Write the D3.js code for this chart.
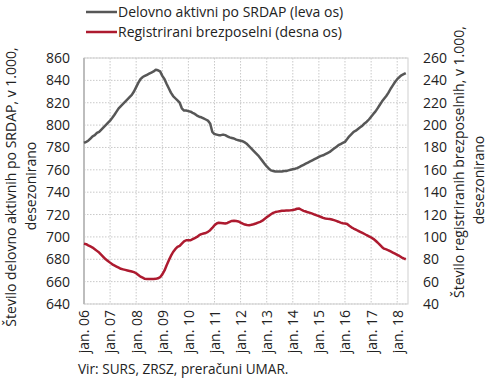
<!DOCTYPE html>
<html>
<head>
<meta charset="utf-8">
<script src="https://cdn.jsdelivr.net/npm/d3@7"></script>
<style>
  body { margin: 0; background: #fff; }
  text { font-family: "Open Sans", sans-serif; fill: #222; }
</style>
</head>
<body>
<svg id="chart" width="490" height="382"></svg>
<script>
// monthly series, first value = jan. 2006
var firstMonth = new Date(2006, 0, 1);

// Delovno aktivni po SRDAP, v 1.000 (leva os)
var employed = [
  784, 785, 786, 788, 790, 791, 793, 794, 796, 798, 800, 802,
  804, 806.5, 809, 812, 815, 817, 819, 821, 823, 825, 827, 830,
  834, 838, 841, 843, 844, 845, 846, 847, 848, 849.5, 849, 848,
  844, 841, 837, 833, 829, 826, 824, 822, 820, 815, 813, 813,
  812.5, 812, 811, 810, 808.5, 807.5, 807, 806, 805, 804, 801.5, 794,
  792, 791.5, 791, 791, 791.5, 791, 790, 789, 788.5, 788, 787, 786.5,
  786, 785.5, 784.5, 783, 781, 779, 777, 775, 773, 770.5, 768, 765.5,
  763, 761, 759.5, 759, 758.5, 758.5, 758.5, 758.5, 759, 759, 759.5, 760,
  760.5, 761, 761.5, 762.5, 763.5, 764.5, 765.5, 766.5, 767.5, 768.5, 769.5, 770.5,
  771.5, 772.5, 773, 774, 775, 776, 777.5, 779, 780.5, 782, 783, 784,
  785, 787.5, 790, 792, 794, 795, 796.5, 798, 799.5, 801.5, 803, 805,
  807.5, 810, 812, 815, 818, 821, 823.5, 826, 829, 832.5, 835.5, 838.5,
  841, 843, 844.5, 845.5, 846.5
];

// Registrirani brezposelni, v 1.000 (desna os)
var unemployed = [
  94, 93.5, 92.5, 91.5, 90.5, 89, 87.5, 86, 84, 82, 80, 78.5,
  77, 75.5, 74.5, 73.5, 72.5, 71.5, 71, 70.5, 70, 69.5, 69, 68.5,
  67.5, 66, 64.5, 63.5, 62.5, 62.3, 62.3, 62.3, 62.3, 62.5, 63, 64,
  66.5, 70, 74.5, 79, 83, 86.5, 89, 91, 92, 94, 96, 97,
  97, 97, 98, 99, 100, 101.5, 102.5, 103, 103.5, 104.5, 106, 108,
  110.5, 112, 112.7, 112.5, 112.3, 112, 112.5, 113.5, 114.3, 114.5, 114.2, 113.8,
  112.8, 111.8, 111, 110.7, 110.5, 110.8, 111.3, 112, 112.8, 113.5, 114.5, 116,
  117.5, 119, 120.3, 121.5, 122.2, 122.6, 123, 123.3, 123.5, 123.6, 123.7, 123.8,
  124, 124.5, 125.2, 125.3, 124.3, 123.3, 122.7, 122, 121.5, 120.8, 120, 119.3,
  118.6, 117.8, 117, 116.5, 116.2, 116, 115.6, 115, 114.3, 113.6, 112.8, 112.2,
  112, 111.5, 110, 108.6, 107.5, 106.5, 105.5, 104.6, 103.6, 102.6, 101.5, 100.5,
  99.5, 98.3, 96.8, 95, 93, 91, 89.5, 88.8, 88, 87, 86, 85,
  84, 83, 81.8, 80.8, 80
];

var tickLabels = ["jan. 06", "jan. 07", "jan. 08", "jan. 09", "jan. 10", "jan. 11", "jan. 12",
                  "jan. 13", "jan. 14", "jan. 15", "jan. 16", "jan. 17", "jan. 18"];
var leftTicks = [640, 660, 680, 700, 720, 740, 760, 780, 800, 820, 840, 860];
var rightTicks = [40, 60, 80, 100, 120, 140, 160, 180, 200, 220, 240, 260];
var seriesNames = ["Delovno aktivni po SRDAP (leva os)", "Registrirani brezposelni (desna os)"];
var seriesColors = ["#575757", "#ad1a2f"];
var leftTitle = ["Število delovno aktivnih po SRDAP, v 1.000,", "desezonirano"];
var rightTitle = ["Število registriranih brezposelnih, v 1.000,", "desezonirano"];
var sourceNote = "Vir: SURS, ZRSZ, preračuni UMAR.";

var svg = d3.select("#chart");
var margin = {top: 58, right: 82, bottom: 78, left: 84};
var width = 490 - margin.left - margin.right,
    height = 382 - margin.top - margin.bottom;

var g = svg.append("g")
    .attr("transform", "translate(" + margin.left + "," + margin.top + ")");

// scales
var dates = employed.map(function(d, i) { return d3.timeMonth.offset(firstMonth, i); });
var x = d3.scaleTime()
    .domain([firstMonth, d3.timeMonth.offset(firstMonth, employed.length)])
    .range([0, width]);
var yLeft = d3.scaleLinear().domain([640, 860]).range([height, 0]);
var yRight = d3.scaleLinear().domain([40, 260]).range([height, 0]);
var yearTicks = d3.timeYear.range(firstMonth, d3.timeMonth.offset(firstMonth, employed.length));

// horizontal grid
g.append("g")
    .selectAll("line")
    .data(leftTicks)
  .enter().append("line")
    .attr("x1", 0).attr("x2", width)
    .attr("y1", function(d) { return yLeft(d); })
    .attr("y2", function(d) { return yLeft(d); })
    .attr("stroke", "#c9c9c9")
    .attr("stroke-dasharray", "1.5,1.5");

// vertical grid
g.append("g")
    .selectAll("line")
    .data(yearTicks.slice(1))
  .enter().append("line")
    .attr("x1", function(d) { return x(d); })
    .attr("x2", function(d) { return x(d); })
    .attr("y1", 0).attr("y2", height)
    .attr("stroke", "#c9c9c9")
    .attr("stroke-dasharray", "1.5,1.5");

// frame
g.append("rect")
    .attr("width", width).attr("height", height)
    .attr("fill", "none")
    .attr("stroke", "#cfcfcf");
g.append("line")
    .attr("x1", 0).attr("x2", 0).attr("y1", 0).attr("y2", height)
    .attr("stroke", "#bdbdbd").attr("stroke-width", 2);

// left axis
var leftAxis = g.append("g")
    .call(d3.axisLeft(yLeft).tickValues(leftTicks).tickSize(0).tickPadding(14));
leftAxis.select(".domain").remove();
leftAxis.selectAll("text").style("font-size", "14px");

// right axis
var rightAxis = g.append("g")
    .attr("transform", "translate(" + width + ",0)")
    .call(d3.axisRight(yRight).tickValues(rightTicks).tickSize(0).tickPadding(15));
rightAxis.select(".domain").remove();
rightAxis.selectAll("text").style("font-size", "14px");

// bottom axis
var bottomAxis = g.append("g")
    .attr("transform", "translate(0," + height + ")")
    .call(d3.axisBottom(x).tickValues(yearTicks).tickSize(0)
      .tickFormat(function(d, i) { return tickLabels[i]; }));
bottomAxis.select(".domain").remove();
bottomAxis.selectAll("text")
    .style("font-size", "14px")
    .attr("text-anchor", "end")
    .attr("transform", "rotate(-90)")
    .attr("x", -6)
    .attr("y", 0)
    .attr("dy", "0.35em");

// lines
var lineLeft = d3.line()
    .x(function(d, i) { return x(dates[i]); })
    .y(function(d) { return yLeft(d); });
var lineRight = d3.line()
    .x(function(d, i) { return x(dates[i]); })
    .y(function(d) { return yRight(d); });

g.append("path")
    .datum(unemployed)
    .attr("fill", "none")
    .attr("stroke", seriesColors[1])
    .attr("stroke-width", 2.5)
    .attr("stroke-linejoin", "round")
    .attr("d", lineRight);

g.append("path")
    .datum(employed)
    .attr("fill", "none")
    .attr("stroke", seriesColors[0])
    .attr("stroke-width", 2.5)
    .attr("stroke-linejoin", "round")
    .attr("d", lineLeft);

// axis titles (each line placed on its own, as in the original)
var midY = margin.top + height / 2;
function axisTitle(lines, xs, ys) {
  lines.forEach(function(t, i) {
    svg.append("text")
        .attr("transform", "translate(" + xs[i] + "," + ys[i] + ") rotate(-90)")
        .attr("text-anchor", "middle")
        .attr("dy", "0.35em")
        .style("font-size", "14px")
        .text(t);
  });
}
axisTitle(leftTitle, [11, 31], [midY + 6, midY + 5]);
axisTitle(rightTitle, [459, 479], [midY - 19, midY - 1]);

// legend
var legend = svg.append("g").attr("transform", "translate(86,12)");
seriesNames.forEach(function(name, i) {
  var row = legend.append("g").attr("transform", "translate(0," + (i * 20) + ")");
  row.append("line")
      .attr("x1", 0).attr("x2", 31)
      .attr("stroke", seriesColors[i]).attr("stroke-width", 2.5);
  row.append("text")
      .attr("x", 32).attr("dy", "0.35em")
      .style("font-size", "14px")
      .text(name);
});

// source
svg.append("text")
    .attr("x", 78).attr("y", 374)
    .style("font-size", "13.6px")
    .text(sourceNote);
</script>
</body>
</html>
